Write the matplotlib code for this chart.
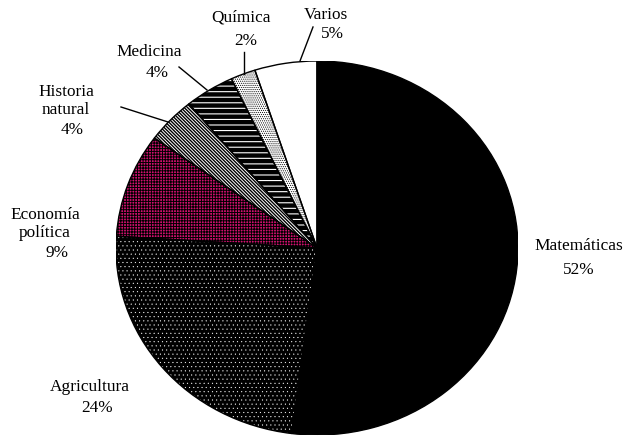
import matplotlib
matplotlib.use("Agg")
import matplotlib.pyplot as plt
from matplotlib.patches import Wedge
from matplotlib.lines import Line2D

# Data
categories = ["Matemáticas", "Agricultura", "Economía\npolítica", "Historia\nnatural",
              "Medicina", "Química", "Varios"]
percentages = [52, 24, 9, 4, 4, 2, 5]

# Styles (face colour, hatch, hatch colour, hatch width)
face_colors = ["black", "black", "#d0106e", "white", "black", "white", "white"]
hatches = [None, "....", "++++++", "\\\\\\\\\\\\\\\\\\\\", "---", "........", None]
hatch_colors = [None, "white", "black", "black", "white", "black", None]
hatch_widths = [0, 0.25, 0.7, 1.0, 0.8, 0.5, 0]

# Label layout in pixels: (name centre, percent centre)
W, H = 627, 439
name_pos = [(579, 246), (90, 387), (45, 224), (66, 101), (149, 52), (241, 18), (326, 15)]
pct_pos = [(579, 270), (97, 408), (57, 253), (72, 130), (157, 73), (246, 41), (332, 34)]
leaders = {3: ((121, 108), (168, 123)), 4: ((179, 68), (207, 91)),
           5: ((244, 53), (244, 75)), 6: ((313, 28), (300, 62))}

plt.rcParams['font.family'] = ['Liberation Serif', 'DejaVu Serif']

fig = plt.figure(figsize=(W / 100, H / 100), dpi=100)
# pie is slightly elliptical in the reference
cx, cy, rx, ry = 317, 249, 201, 187
ax = fig.add_axes([(cx - rx) / W, 1 - (cy + ry) / H, 2 * rx / W, 2 * ry / H])

wedges, _ = ax.pie(percentages, startangle=90, counterclock=False, colors=face_colors,
                   wedgeprops=dict(edgecolor='none', linewidth=0))
ax.set_aspect('auto')
ax.set_xlim(-1, 1)
ax.set_ylim(-1, 1)
ax.axis('off')

for i, w in enumerate(wedges):
    if hatches[i]:
        with plt.rc_context({'hatch.linewidth': hatch_widths[i]}):
            ax.add_patch(Wedge(w.center, w.r, w.theta1, w.theta2, facecolor='none',
                               edgecolor=hatch_colors[i], hatch=hatches[i],
                               linewidth=0, zorder=2))
    ax.add_patch(Wedge(w.center, w.r, w.theta1, w.theta2, facecolor='none',
                       edgecolor='black', linewidth=1.0, zorder=3))

for i, name in enumerate(categories):
    nx, ny = name_pos[i]
    px, py = pct_pos[i]
    fig.text(nx / W, 1 - ny / H, name, ha='center', va='center', fontsize=12.4,
             linespacing=1.1)
    fig.text(px / W, 1 - py / H, f"{percentages[i]}%", ha='center', va='center',
             fontsize=12.4)

for (x0, y0), (x1, y1) in leaders.values():
    fig.add_artist(Line2D([x0 / W, x1 / W], [1 - y0 / H, 1 - y1 / H],
                          transform=fig.transFigure, color='black', linewidth=1.0))

fig.savefig("out.png", dpi=100)
